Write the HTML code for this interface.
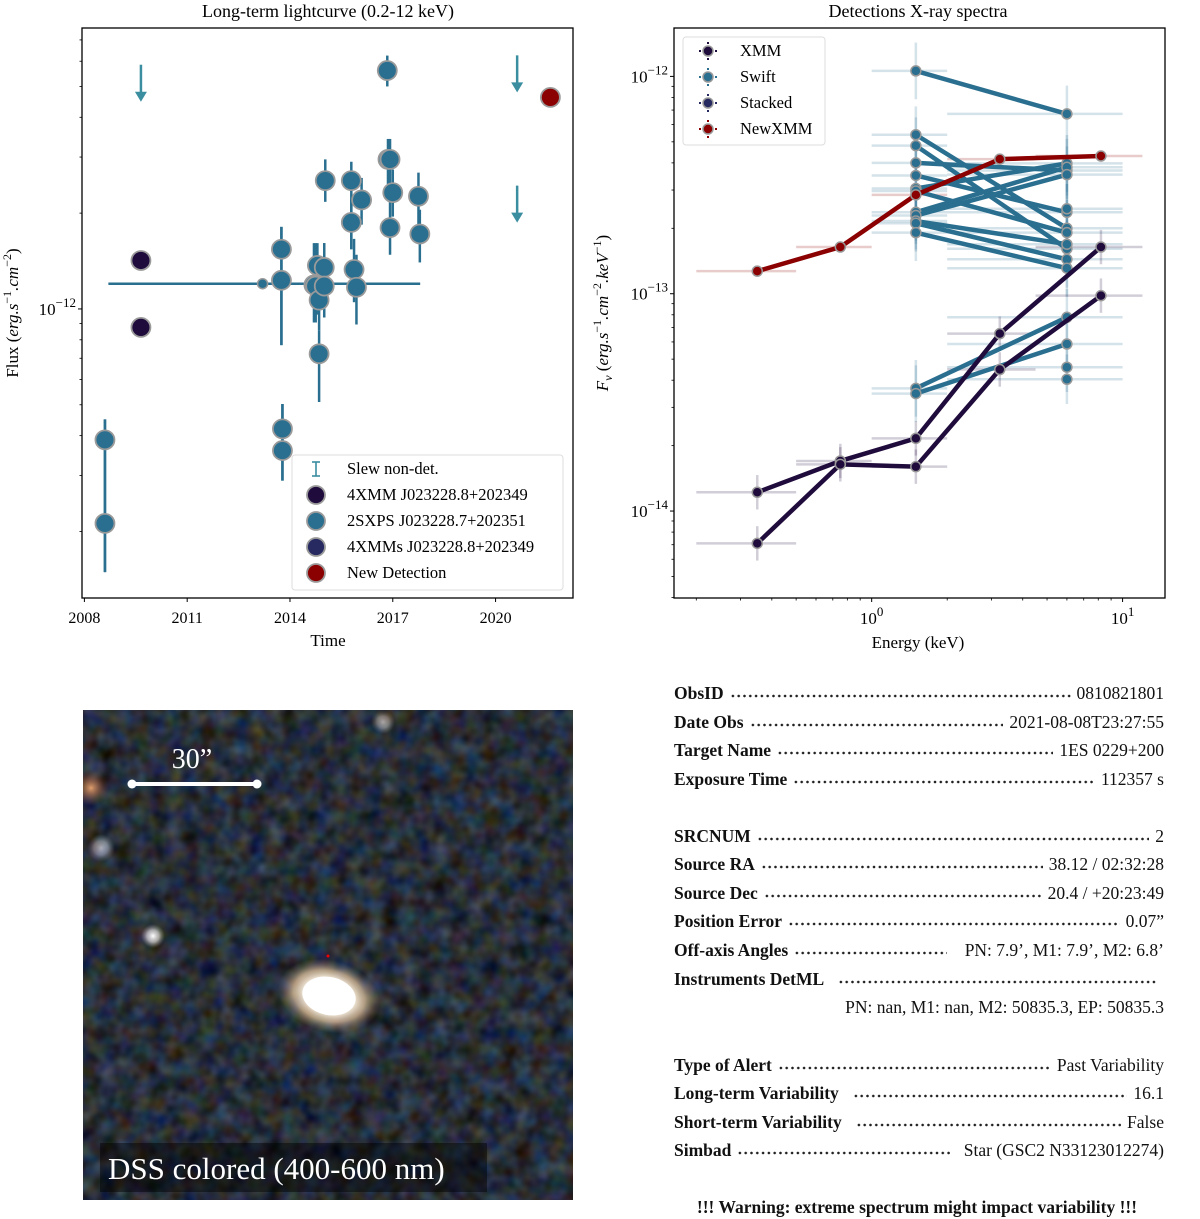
<!DOCTYPE html>
<html><head><meta charset="utf-8">
<style>
html,body{margin:0;padding:0;background:#fff;}
body{width:1200px;height:1218px;position:relative;overflow:hidden;font-family:"Liberation Serif",serif;color:#111;}
svg text{font-family:"Liberation Serif",serif;}
.row{position:absolute;left:674px;width:490px;height:24px;line-height:24px;font-size:17.5px;display:flex;align-items:center;}
.row b{white-space:nowrap;}
.lead{flex:1;height:24px;margin:0 6px;background-image:radial-gradient(circle,#222 1.1px,transparent 1.5px);background-size:5.8px 4px;background-repeat:repeat-x;background-position:0 13px;}
.val{white-space:nowrap;}
</style></head>
<body>
<svg id="lc" width="600" height="660" style="position:absolute;left:0;top:0;overflow:visible"></svg>
<svg id="sp" width="600" height="660" style="position:absolute;left:600px;top:0;overflow:visible" viewBox="600 0 600 660"></svg>

<svg width="490" height="490" style="position:absolute;left:83px;top:710px">
 <defs>
  <filter id="noise" x="0" y="0" width="100%" height="100%" color-interpolation-filters="sRGB">
   <feTurbulence type="fractalNoise" baseFrequency="0.06" numOctaves="2" seed="7"/>
   <feColorMatrix type="matrix" values="0.3 0.15 0 0 -0.07  0.1 0.3 0.1 0 -0.07  0 0.15 0.45 0 -0.08  0 0 0 0 1"/>
  </filter>
  <radialGradient id="gal"><stop offset="0" stop-color="#fff"/><stop offset="0.45" stop-color="#fffaf0"/><stop offset="0.7" stop-color="#e8c9a0" stop-opacity="0.7"/><stop offset="1" stop-color="#8a7a70" stop-opacity="0"/></radialGradient>
  <radialGradient id="star"><stop offset="0" stop-color="#fff"/><stop offset="0.5" stop-color="#ddd" stop-opacity="0.7"/><stop offset="1" stop-color="#888" stop-opacity="0"/></radialGradient>
  <radialGradient id="orange"><stop offset="0" stop-color="#e0a070"/><stop offset="1" stop-color="#804020" stop-opacity="0"/></radialGradient>
 </defs>
 <rect width="490" height="490" fill="#262b36"/>
 <rect width="490" height="490" filter="url(#noise)"/>
 <ellipse cx="246" cy="286" rx="52" ry="36" fill="url(#gal)" transform="rotate(15 246 286)"/>
 <ellipse cx="246" cy="286" rx="27" ry="19" fill="#fff" transform="rotate(12 246 286)"/>
 <circle cx="70" cy="226" r="12" fill="url(#star)"/>
 <circle cx="18" cy="138" r="14" fill="url(#star)" opacity="0.6"/>
 <circle cx="8" cy="78" r="18" fill="url(#orange)"/>
 <circle cx="300" cy="12" r="12" fill="url(#star)" opacity="0.6"/>
 <circle cx="245" cy="246" r="1.5" fill="#e00"/>
 <line x1="49" y1="74" x2="174" y2="74" stroke="#fff" stroke-width="4"/>
 <circle cx="49" cy="74" r="4.5" fill="#fff"/><circle cx="174" cy="74" r="4.5" fill="#fff"/>
 <text x="109" y="58" font-size="28" fill="#fff" text-anchor="middle">30”</text>
 <rect x="17" y="433" width="387" height="49" fill="#000" opacity="0.45"/>
 <text x="25" y="469" font-size="31" fill="#fff">DSS colored (400-600 nm)</text>
</svg>

<div>
<div class="row" style="top:681px"><b>ObsID</b><span class="lead"></span><span class="val">0810821801</span></div>
<div class="row" style="top:710px"><b>Date Obs</b><span class="lead"></span><span class="val">2021-08-08T23:27:55</span></div>
<div class="row" style="top:738px"><b>Target Name</b><span class="lead"></span><span class="val">1ES 0229+200</span></div>
<div class="row" style="top:767px"><b>Exposure Time</b><span class="lead"></span><span class="val">112357 s</span></div>
<div class="row" style="top:824px"><b>SRCNUM</b><span class="lead"></span><span class="val">2</span></div>
<div class="row" style="top:852px"><b>Source RA</b><span class="lead"></span><span class="val">38.12 / 02:32:28</span></div>
<div class="row" style="top:881px"><b>Source Dec</b><span class="lead"></span><span class="val">20.4 / +20:23:49</span></div>
<div class="row" style="top:909px"><b>Position Error</b><span class="lead"></span><span class="val">0.07”</span></div>
<div class="row" style="top:938px"><b>Off-axis Angles</b><span class="lead" style="margin-right:18px"></span><span class="val">PN: 7.9’, M1: 7.9’, M2: 6.8’</span></div>
<div class="row" style="top:967px"><b>Instruments DetML</b><span class="lead" style="margin-left:14px"></span></div>
<div class="row" style="top:995px;justify-content:flex-end"><span class="val">PN: nan, M1: nan, M2: 50835.3, EP: 50835.3</span></div>
<div class="row" style="top:1053px"><b>Type of Alert</b><span class="lead"></span><span class="val">Past Variability</span></div>
<div class="row" style="top:1081px"><b>Long-term Variability</b><span class="lead" style="margin-left:14px"></span><span class="val">16.1</span></div>
<div class="row" style="top:1110px"><b>Short-term Variability</b><span class="lead" style="margin-left:14px"></span><span class="val">False</span></div>
<div class="row" style="top:1138px"><b>Simbad</b><span class="lead" style="margin-right:14px"></span><span class="val">Star (GSC2 N33123012274)</span></div>
<div class="row" style="top:1195px;justify-content:center;left:672px"><b>!!! Warning: extreme spectrum might impact variability !!!</b></div>
</div>

<script>
// ---------- Lightcurve data ----------
const swiftYears = [2008.6,2008.6,2013.75,2013.75,2013.78,2013.78,2014.7,2014.75,2014.85,2014.8,2015.0,2015.0,2014.85,2015.03,2015.79,2015.79,2015.87,2015.94,2016.09,2016.84,2016.86,2016.92,2017.0,2016.92,2017.75,2017.79];
const swiftFlux  = [0.388,0.212,1.54,1.23,0.42,0.359,1.19,1.18,1.066,1.37,1.35,1.18,0.723,2.53,2.53,1.87,1.33,1.17,2.2,5.61,2.95,2.95,2.32,1.8,2.26,1.72];
const swiftHi    = [0.45,0.45,1.81,1.81,0.503,0.503,1.61,1.61,1.29,1.61,1.61,1.61,0.855,2.95,2.9,2.2,1.66,1.48,2.58,6.25,3.42,3.42,2.74,2.2,2.68,2.05];
const swiftLo    = [0.149,0.149,0.77,0.77,0.289,0.289,0.907,0.907,0.855,0.96,1.02,0.94,0.51,2.17,1.54,1.54,1.05,0.894,1.84,5.0,2.47,2.47,1.95,1.48,1.6,1.4];
const xmmYears = [2009.65,2009.65];
const xmmFlux  = [1.42,0.875];
const stackYear = [2013.2], stackFlux = [1.2], stackXLo=[2008.7], stackXHi=[2017.8];
const ulYears = [2009.65,2020.63,2020.63];
const ulFlux  = [5.85,6.26,2.44];
const newYears = [2021.6], newFlux = [4.62];
const lcXTicks = [2008,2011,2014,2017,2020];

// ---------- Spectrum data ----------
const xmmE = [0.35,0.75,1.5,3.24,8.2];
const binLo = [0.2,0.5,1.0,2.0,4.5];
const binHi = [0.5,1.0,2.0,4.5,12];
const xmmSpec1 = [1.22e-14,1.7e-14,2.16e-14,6.55e-14,1.64e-13];
const xmmSpec2 = [7.1e-15,1.64e-14,1.6e-14,4.48e-14,9.8e-14];
const newSpec  = [1.27e-13,1.64e-13,2.85e-13,4.16e-13,4.3e-13];
const swiftE = [1.5,6.0];
const swiftBinLo = [1.0,2.0], swiftBinHi=[2.0,10.0];
const swiftSpecLeft  = [1.06e-12,5.39e-13,4.8e-13,4.0e-13,3.5e-13,3.05e-13,2.97e-13,2.37e-13,2.29e-13,2.16e-13,2.11e-13,1.91e-13,3.67e-14,3.47e-14];
const swiftSpecRight = [6.72e-13,2.0e-13,1.61e-13,3.69e-13,2.37e-13,3.98e-13,1.91e-13,3.82e-13,3.53e-13,1.69e-13,1.44e-13,1.31e-13,7.79e-14,5.87e-14];
const swiftExtraRight = [4.59e-14,4.04e-14,2.46e-13];

const NS='http://www.w3.org/2000/svg';
function el(parent,tag,attrs){const e=document.createElementNS(NS,tag);for(const k in attrs)e.setAttribute(k,attrs[k]);parent.appendChild(e);return e;}
const L10=Math.log10;

// ===== Lightcurve =====
(function(){
 const s=document.getElementById('lc');
 const X0=82,X1=573,Y0=28,Y1=598, yr0=2007.93, yr1=2022.26, fTop=7.63, fBot=0.1236;
 const xs=y=>X0+(y-yr0)/(yr1-yr0)*(X1-X0);
 const ys=f=>Y0+(L10(fTop)-L10(f))/(L10(fTop)-L10(fBot))*(Y1-Y0);
 const C='#2a6f8f';
 let t=el(s,'text',{x:328,y:17,'font-size':18,'text-anchor':'middle'});t.textContent='Long-term lightcurve (0.2-12 keV)';
 
 
 lcXTicks.forEach(v=>{const x=xs(v);el(s,'line',{x1:x,x2:x,y1:Y1,y2:Y1+4,stroke:'#000','stroke-width':1});
  const tt=el(s,'text',{x:x,y:623,'font-size':16,'text-anchor':'middle'});tt.textContent=v;
  
  });
 [0.2,0.3,0.4,0.5,0.6,0.7,0.8,0.9,2,3,4,5,6,7].forEach(v=>{const y=ys(v);el(s,'line',{x1:X0-2.5,x2:X0,y1:y,y2:y,stroke:'#000','stroke-width':0.8});});
 el(s,'line',{x1:X0-4,x2:X0,y1:ys(1),y2:ys(1),stroke:'#000','stroke-width':1});
 const yl=el(s,'text',{x:X0-6,y:ys(1)+6,'font-size':17,'text-anchor':'end'});yl.innerHTML='10<tspan dy="-8" font-size="13">−12</tspan>';
 
 
 const xl=el(s,'text',{x:328,y:646,'font-size':17,'text-anchor':'middle'});xl.textContent='Time';
 
 
 const ylab=el(s,'text',{x:0,y:0,'font-size':17,'text-anchor':'middle',transform:'translate(18,313) rotate(-90)'});
 ylab.innerHTML='Flux (<tspan font-style="italic">erg.s</tspan><tspan dy="-7" font-size="12">−1</tspan><tspan dy="7" font-style="italic">.cm</tspan><tspan dy="-7" font-size="12">−2</tspan><tspan dy="7">)</tspan>';
 
 
 stackYear.forEach((v,i)=>{const y=ys(stackFlux[i]);
  const l=el(s,'line',{x1:xs(stackXLo[i]),x2:xs(stackXHi[i]),y1:y,y2:y,stroke:C,'stroke-width':2.5});
  
  
  const c=el(s,'circle',{cx:xs(v),cy:y,r:5,fill:C,stroke:'#999','stroke-width':1.5});
  
  });
 swiftYears.forEach((v,i)=>{const l=el(s,'line',{x1:xs(v),x2:xs(v),y1:ys(swiftHi[i]),y2:ys(swiftLo[i]),stroke:C,'stroke-width':2.5});
  
  });
 swiftYears.forEach((v,i)=>{const c=el(s,'circle',{cx:xs(v),cy:ys(swiftFlux[i]),r:9.5,fill:C,stroke:'#9a9a9a','stroke-width':1.8});
  
  });
 xmmYears.forEach((v,i)=>{const c=el(s,'circle',{cx:xs(v),cy:ys(xmmFlux[i]),r:9.5,fill:'#200c3c',stroke:'#9a9a9a','stroke-width':1.8});
  
  });
 ulYears.forEach((v,i)=>{const x=xs(v),y=ys(ulFlux[i]);
  const g=el(s,'g',{});
  
  
  el(g,'line',{x1:x,x2:x,y1:y,y2:y+32,stroke:'#3a8ea0','stroke-width':2.5});
  el(g,'path',{d:`M${x-6},${y+27} L${x+6},${y+27} L${x},${y+37} Z`,fill:'#3a8ea0'});});
 newYears.forEach((v,i)=>{const c=el(s,'circle',{cx:xs(v),cy:ys(newFlux[i]),r:9.5,fill:'#8b0000',stroke:'#9a9a9a','stroke-width':1.8});
  
  });
 el(s,'rect',{x:X0,y:Y0,width:X1-X0,height:Y1-Y0,fill:'none',stroke:'#000','stroke-width':1.3});
 const lg=el(s,'g',{});
 
 
 el(lg,'rect',{x:292,y:455,width:271,height:135,fill:'#fff',stroke:'#ddd','stroke-width':1,rx:3});
 const labels=['Slew non-det.','4XMM J023228.8+202349','2SXPS J023228.7+202351','4XMMs J023228.8+202349','New Detection'];
 const cols=[null,'#200c3c','#2a6f8f','#262a60','#8b0000'];
 labels.forEach((lab,i)=>{const y=469+i*26;
  if(i===0){el(lg,'line',{x1:316,x2:316,y1:y-7,y2:y+7,stroke:'#3a8ea0','stroke-width':1.6});
   el(lg,'line',{x1:312,x2:320,y1:y-7,y2:y-7,stroke:'#3a8ea0','stroke-width':1.6});
   el(lg,'line',{x1:312,x2:320,y1:y+7,y2:y+7,stroke:'#3a8ea0','stroke-width':1.6});}
  else el(lg,'circle',{cx:316,cy:y,r:9,fill:cols[i],stroke:'#9a9a9a','stroke-width':1.8});
  const tx=el(lg,'text',{x:347,y:y+5,'font-size':16.5});tx.textContent=lab;
  
  });
})();

// ===== Spectrum =====
(function(){
 const s=document.getElementById('sp');
 const X0=674,X1=1165,Y0=28,Y1=598,e0=0.163,e1=14.76,fT=1.67e-12,fB=3.98e-15;
 const xs=e=>X0+(L10(e)-L10(e0))/(L10(e1)-L10(e0))*(X1-X0);
 const ys=f=>Y0+(L10(fT)-L10(f))/(L10(fT)-L10(fB))*(Y1-Y0);
 const CX='#200c3c',CS='#2a6f8f',CN='#8b0000';
 let t=el(s,'text',{x:918,y:17,'font-size':18,'text-anchor':'middle'});t.textContent='Detections X-ray spectra';
 
 
 [1,10].forEach((v,i)=>{const x=xs(v);el(s,'line',{x1:x,x2:x,y1:Y1,y2:Y1+4,stroke:'#000'});
  const tt=el(s,'text',{x:x,y:624,'font-size':17,'text-anchor':'middle'});tt.innerHTML='10<tspan dy="-8" font-size="13">'+i+'</tspan>';
  
  });
 [0.2,0.3,0.4,0.5,0.6,0.7,0.8,0.9,2,3,4,5,6,7,8,9].forEach(v=>{const x=xs(v);el(s,'line',{x1:x,x2:x,y1:Y1,y2:Y1+2.5,stroke:'#000','stroke-width':0.8});});
 [-12,-13,-14].forEach(p=>{const y=ys(Math.pow(10,p));el(s,'line',{x1:X0-4,x2:X0,y1:y,y2:y,stroke:'#000'});
  const tt=el(s,'text',{x:X0-6,y:y+6,'font-size':17,'text-anchor':'end'});tt.innerHTML='10<tspan dy="-8" font-size="13">−'+(-p)+'</tspan>';
  
  });
 for(let p=-15;p<=-12;p++)for(let m=2;m<=9;m++){const f=m*Math.pow(10,p);if(f>fB&&f<fT){const y=ys(f);el(s,'line',{x1:X0-2.5,x2:X0,y1:y,y2:y,stroke:'#000','stroke-width':0.8});}}
 const xl=el(s,'text',{x:918,y:648,'font-size':17,'text-anchor':'middle'});xl.textContent='Energy (keV)';
 
 
 const yl=el(s,'text',{x:0,y:0,'font-size':17,'text-anchor':'middle',transform:'translate(608,313) rotate(-90)'});
 yl.innerHTML='<tspan font-style="italic">F</tspan><tspan dy="4" font-size="12" font-style="italic">ν</tspan><tspan dy="-4"> (</tspan><tspan font-style="italic">erg.s</tspan><tspan dy="-7" font-size="12">−1</tspan><tspan dy="7" font-style="italic">.cm</tspan><tspan dy="-7" font-size="12">−2</tspan><tspan dy="7" font-style="italic">.keV</tspan><tspan dy="-7" font-size="12">−1</tspan><tspan dy="7">)</tspan>';
 
 
 function errs(E,lo,hi,F,col,fr){E.forEach((e,i)=>{const y=ys(F[i]),x=xs(e);
  el(s,'line',{x1:xs(lo[i]),x2:xs(hi[i]),y1:y,y2:y,stroke:col,'stroke-width':2.5,'stroke-opacity':0.2});
  el(s,'line',{x1:x,x2:x,y1:ys(F[i]*(1+fr)),y2:ys(F[i]/(1+fr)),stroke:col,'stroke-width':2.5,'stroke-opacity':0.2});});}
 function series(E,F,col,name){const pts=E.map((e,i)=>xs(e)+','+ys(F[i])).join(' ');
  const pl=el(s,'polyline',{points:pts,fill:'none',stroke:col,'stroke-width':4.5,'stroke-linejoin':'round'});
  
  
  E.forEach((e,i)=>{el(s,'circle',{cx:xs(e),cy:ys(F[i]),r:5,fill:col,stroke:'#999','stroke-width':1.5});});}
 swiftSpecLeft.forEach((f,i)=>errs(swiftE,swiftBinLo,swiftBinHi,[f,swiftSpecRight[i]],CS,0.35));
 swiftExtraRight.forEach(f=>errs([6.0],[2.0],[10.0],[f],CS,0.3));
 errs(xmmE,binLo,binHi,xmmSpec1,CX,0.2);
 errs(xmmE,binLo,binHi,xmmSpec2,CX,0.2);
 errs(xmmE,binLo,binHi,newSpec,CN,0.03);
 swiftSpecLeft.forEach((f,i)=>series(swiftE,[f,swiftSpecRight[i]],CS,'swift-spectrum-line'));
 swiftExtraRight.forEach(f=>{const c=el(s,'circle',{cx:xs(6.0),cy:ys(f),r:5,fill:CS,stroke:'#999','stroke-width':1.5});
  
  });
 series(xmmE,xmmSpec1,CX,'xmm-spectrum-line');
 series(xmmE,xmmSpec2,CX,'xmm-spectrum-line');
 series(xmmE,newSpec,CN,'newxmm-spectrum-line');
 el(s,'rect',{x:X0,y:Y0,width:X1-X0,height:Y1-Y0,fill:'none',stroke:'#000','stroke-width':1.3});
 const lg=el(s,'g',{});
 
 
 el(lg,'rect',{x:683,y:37,width:142,height:108,fill:'#fff',stroke:'#ddd',rx:3});
 ['XMM','Swift','Stacked','NewXMM'].forEach((lab,i)=>{const y=51+i*26,c=[CX,CS,'#262a60',CN][i];
  el(lg,'line',{x1:699,x2:717,y1:y,y2:y,stroke:c,'stroke-width':2,'stroke-dasharray':'2,2'});
  el(lg,'line',{x1:708,x2:708,y1:y-9,y2:y+9,stroke:c,'stroke-width':2,'stroke-dasharray':'2,2'});
  el(lg,'circle',{cx:708,cy:y,r:5,fill:c,stroke:'#999','stroke-width':1.5});
  const tx=el(lg,'text',{x:740,y:y+5,'font-size':16.5});tx.textContent=lab;
  
  });
})();
</script>
</body></html>
